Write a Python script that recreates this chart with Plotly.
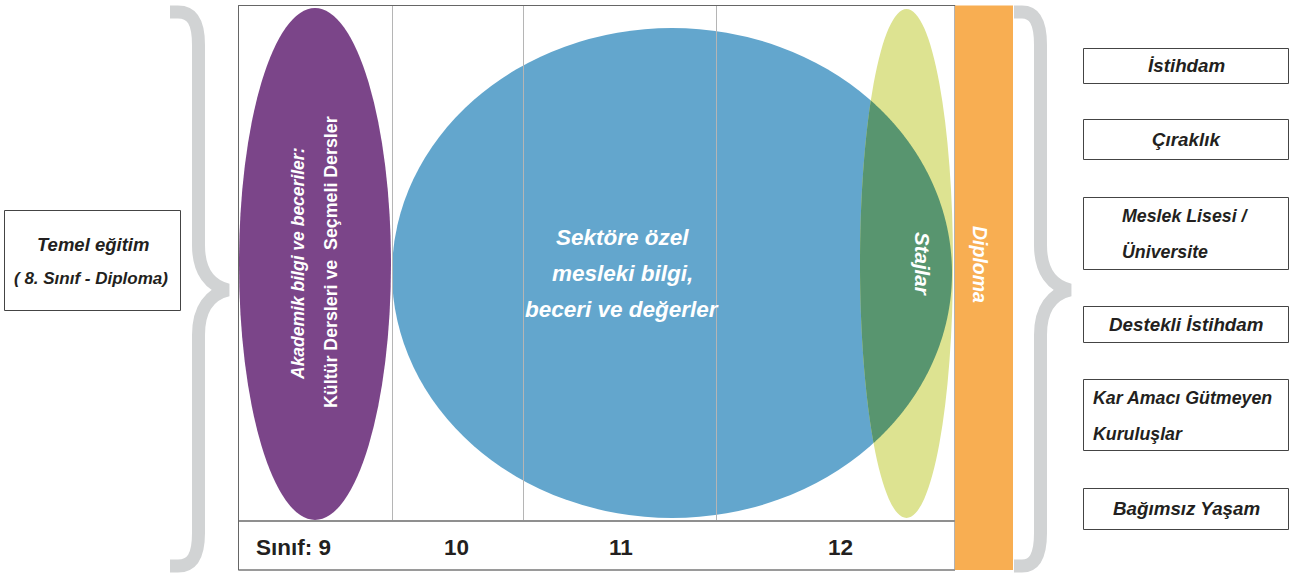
import numpy as np
import plotly.graph_objects as go

# ---------------- content ----------------
left_title = ["Temel eğitim", "( 8. Sınıf - Diploma)"]
grade_labels = ["Sınıf: 9", "10", "11", "12"]
academic_lines = ["Akademik bilgi ve beceriler:", "Kültür Dersleri ve\u00a0 Seçmeli Dersler"]
sector_lines = ["Sektöre özel", "mesleki bilgi,", "beceri ve değerler"]
intern_label = "Stajlar"
diploma_label = "Diploma"
outcome_lines = [
    ["İstihdam"],
    ["Çıraklık"],
    ["Meslek Lisesi /", "Üniversite"],
    ["Destekli İstihdam"],
    ["Kar Amacı Gütmeyen", "Kuruluşlar"],
    ["Bağımsız Yaşam"],
]

# ---------------- geometry (pixel layout) ----------------
W, H = 1293, 576
FONT = "Liberation Sans, Arial, sans-serif"
DARK = "#231F20"
PURPLE = "#7B4589"
BLUE = "#63A6CD"
YELLOW = "#DDE391"
GREEN = "#58956F"
ORANGE = "#F8AE52"
BRACE = "#D1D3D4"
GRID = "#B5B5B5"

box_x0, box_x1, box_y0, box_y1 = 238.5, 955, 5.5, 570
strip_y = 521
grid_x = [392.5, 523.5, 716.5]
grade_x = [293, 456, 621, 840]
orange_x0, orange_x1 = 955, 1013

purple_e = (239, 391, 8, 520)
blue_e = (392, 952, 28, 518)
yellow_e = (860, 953, 9, 518)

out_x0, out_x1 = 1083.5, 1288.5
out_y = [(48, 83), (119, 159), (197, 269), (306, 342), (379, 450), (488, 529)]

fig = go.Figure()
shapes = []

# main box
shapes.append(dict(type="rect", x0=box_x0, x1=box_x1, y0=box_y0, y1=box_y1,
                   line=dict(color="#666666", width=1), fillcolor="white", layer="below"))

def ell(e, color):
    return dict(type="circle", x0=e[0], x1=e[1], y0=e[2], y1=e[3],
                fillcolor=color, line=dict(width=0))

shapes.append(ell(purple_e, PURPLE))
shapes.append(ell(blue_e, BLUE))
shapes.append(ell(yellow_e, YELLOW))

# intersection lens of blue & yellow
def ell_params(e):
    return ((e[0] + e[1]) / 2, (e[2] + e[3]) / 2, (e[1] - e[0]) / 2, (e[3] - e[2]) / 2)

def inside(px, py, e):
    cx, cy, rx, ry = ell_params(e)
    return ((px - cx) / rx) ** 2 + ((py - cy) / ry) ** 2 <= 1.0000001

t = np.linspace(0, 2 * np.pi, 1440, endpoint=False)
pts = []
for a, b in ((blue_e, yellow_e), (yellow_e, blue_e)):
    cx, cy, rx, ry = ell_params(a)
    xs, ys = cx + rx * np.cos(t), cy + ry * np.sin(t)
    for px, py in zip(xs, ys):
        if inside(px, py, b):
            pts.append((px, py))
pts = np.array(pts)
mc = pts.mean(axis=0)
ang = np.arctan2(pts[:, 1] - mc[1], pts[:, 0] - mc[0])
pts = pts[np.argsort(ang)]
path = "M " + " L ".join(f"{p[0]:.2f},{p[1]:.2f}" for p in pts) + " Z"
shapes.append(dict(type="path", path=path, fillcolor=GREEN, line=dict(width=0)))

# grid lines
for gx in grid_x:
    shapes.append(dict(type="line", x0=gx, x1=gx, y0=box_y0, y1=strip_y,
                       line=dict(color=GRID, width=1)))
shapes.append(dict(type="line", x0=box_x0, x1=box_x1, y0=strip_y, y1=strip_y,
                   line=dict(color="#8F8F8F", width=2)))
shapes.append(dict(type="line", x0=box_x0, x1=box_x1, y0=box_y1, y1=box_y1,
                   line=dict(color="#9A9A9A", width=2)))
shapes.append(dict(type="line", x0=box_x0, x1=box_x0, y0=box_y0, y1=box_y1,
                   line=dict(color="#666666", width=1)))
shapes.append(dict(type="line", x0=box_x0, x1=box_x1, y0=box_y0, y1=box_y0,
                   line=dict(color="#666666", width=1)))

# orange diploma bar
shapes.append(dict(type="rect", x0=orange_x0, x1=orange_x1, y0=box_y0, y1=box_y1,
                   fillcolor=ORANGE, line=dict(width=0)))

# braces
def brace(xe, xv, xt, top, bot, tip):
    return (f"M {xe} {top} L {xe+8} {top} C {xv-6} {top}, {xv} {top+10}, {xv} {top+33} "
            f"L {xv} {tip-45} C {xv} {tip-18}, {xv+12} {tip-4}, {xt} {tip} "
            f"C {xv+12} {tip+4}, {xv} {tip+18}, {xv} {tip+45} "
            f"L {xv} {bot-33} C {xv} {bot-10}, {xv-6} {bot}, {xe+8} {bot} L {xe} {bot}")

shapes.append(dict(type="path", path=brace(170, 198.5, 228, 12, 566, 290),
                   line=dict(color=BRACE, width=13)))
shapes.append(dict(type="path", path=brace(1014, 1040.5, 1070, 12, 566, 290),
                   line=dict(color=BRACE, width=13)))

# left box
shapes.append(dict(type="rect", x0=4.5, x1=180.5, y0=210.5, y1=310.5,
                   line=dict(color="#444444", width=1), fillcolor="white"))
# outcome boxes
for (y0, y1) in out_y:
    shapes.append(dict(type="rect", x0=out_x0, x1=out_x1, y0=y0 + 0.5, y1=y1 + 0.5,
                       line=dict(color="#444444", width=1), fillcolor="white"))

fig.update_layout(shapes=shapes)

ann = []
def txt(x, y, s, size=18, color=DARK, angle=0, xanchor="center", bold=True, italic=True):
    t_ = s
    if italic:
        t_ = f"<i>{t_}</i>"
    if bold:
        t_ = f"<b>{t_}</b>"
    ann.append(dict(x=x, y=y, xref="x", yref="y", text=t_, showarrow=False,
                    textangle=angle, xanchor=xanchor, yanchor="middle",
                    font=dict(family=FONT, size=size, color=color)))

# left text
txt(93, 244, left_title[0], size=18.5)
txt(91, 278, left_title[1], size=17)

# grades
for gx, lab in zip(grade_x, grade_labels):
    txt(gx, 547, lab, size=22.5, italic=False)

# academic (purple)
txt(298, 264, academic_lines[0], size=17.5, color="white", angle=-90)
txt(331, 262, academic_lines[1], size=17.8, color="white", angle=-90, italic=False)

# sector text (blue)
for yy, line in zip([237, 273, 309], sector_lines):
    txt(622, yy, line, size=22.5, color="white")

# Stajlar, Diploma
txt(923, 264, intern_label, size=20.5, color="white", angle=90)
txt(980, 264, diploma_label, size=19.5, color="white", angle=90)

# outcomes
single_x = 1186
for (y0, y1), lines in zip(out_y, outcome_lines):
    ym = (y0 + y1) / 2
    if len(lines) == 1:
        txt(single_x, ym, lines[0], size=18.8)
    else:
        lx = 1120 if lines[0].startswith("Meslek") else 1091
        txt(lx, ym - 17, lines[0], size=17.8, xanchor="left")
        txt(lx, ym + 19, lines[1], size=17.8, xanchor="left")

fig.update_layout(
    annotations=ann,
    width=W, height=H,
    margin=dict(l=0, r=0, t=0, b=0),
    paper_bgcolor="white", plot_bgcolor="white",
    xaxis=dict(range=[0, W], visible=False, fixedrange=True),
    yaxis=dict(range=[H, 0], visible=False, fixedrange=True),
    showlegend=False,
)
fig.write_html("out.html", config={"displayModeBar": False},
               post_script="document.body.style.margin='0';document.body.style.overflow='hidden';")
